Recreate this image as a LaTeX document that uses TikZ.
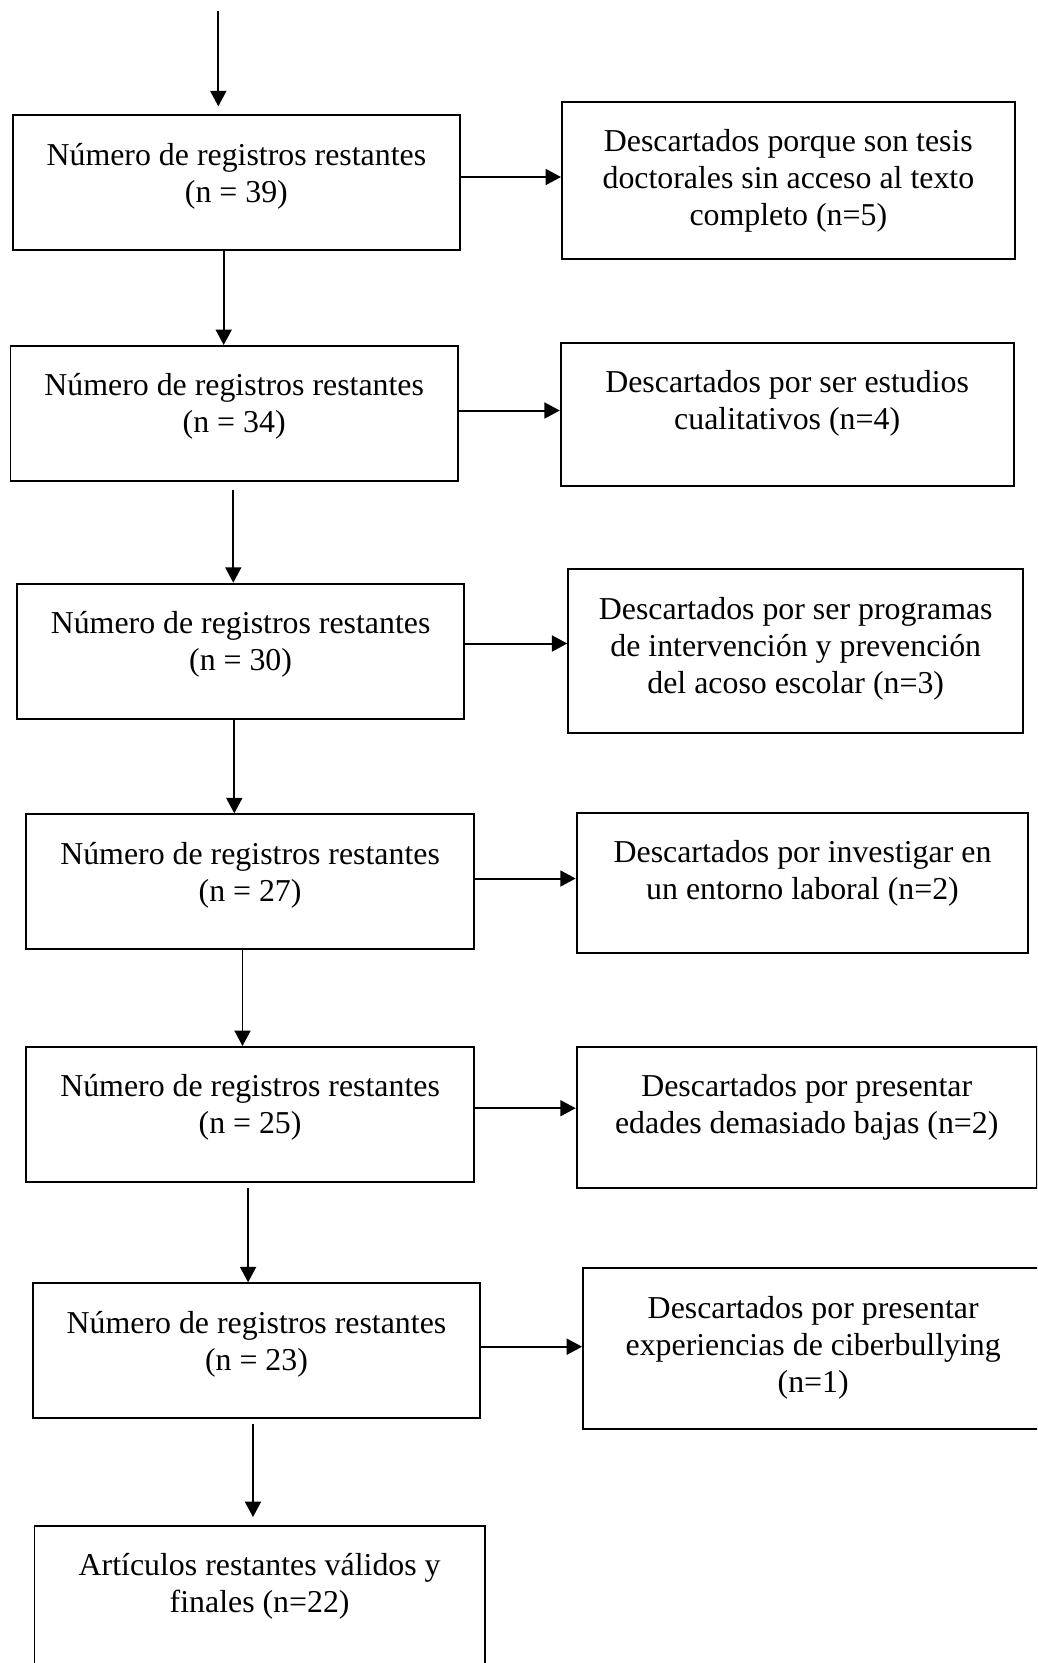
\documentclass[tikz,border=0pt]{standalone}
\usepackage{fontspec}
\setmainfont{Liberation Serif}
\usetikzlibrary{arrows.meta}

\begin{document}
\begin{tikzpicture}[x=0.3766pt, y=-0.3766pt, line width=0.75pt,
  >={Triangle[length=5.8pt,width=6pt]},
  restbox/.style={draw, anchor=north west, inner sep=0pt, align=flush center,
    text width=168.5pt, text height=18.8pt, text depth=32pt,
    font=\fontsize{12}{13.9}\selectfont},
  descbox/.style={restbox, text width=170.5pt}]
\clip (0,0) rectangle (1037,1663);

% remaining records
\node[restbox] (b1) at (11.7,114.3) {Número de registros restantes\\(n = 39)};
\node[restbox] (b2) at (9.5,345) {Número de registros restantes\\(n = 34)};
\node[restbox] (b3) at (15.9,582.7) {Número de registros restantes\\(n = 30)};
\node[restbox] (b4) at (25.4,813.3) {Número de registros restantes\\(n = 27)};
\node[restbox] (b5) at (25.4,1046) {Número de registros restantes\\(n = 25)};
\node[restbox] (b6) at (31.8,1282.3) {Número de registros restantes\\(n = 23)};
\node[restbox, text width=169.6pt, text depth=60pt] (b7) at (33.5,1525)
  {Artículos restantes válidos y\\finales (n=22)};

% discarded
\node[descbox, text depth=40.5pt] (d1) at (561,101)
  {Descartados porque son tesis\\doctorales sin acceso al texto\\completo (n=5)};
\node[descbox, text depth=35.1pt] (d2) at (559.8,341.7)
  {Descartados por ser estudios\\cualitativos (n=4)};
\node[descbox, text width=171.3pt, text depth=42.7pt] (d3) at (567.3,568.3)
  {Descartados por ser programas\\de intervención y prevención\\del acoso escolar (n=3)};
\node[descbox, text width=170.1pt, text depth=34.1pt] (d4) at (575.7,811.7)
  {Descartados por investigar en\\un entorno laboral (n=2)};
\node[descbox, text width=173.3pt, text depth=34.3pt] (d5) at (575.7,1045.7)
  {Descartados por presentar\\edades demasiado bajas (n=2)};
\node[descbox, text width=173.3pt, text depth=41.6pt] (d6) at (582.1,1267.3)
  {Descartados por presentar\\experiencias de ciberbullying\\(n=1)};

% arrow columns and rows
\coordinate (top) at (218.3,10.6);
\coordinate (c1) at (223.7,0);
\coordinate (c2) at (233.3,0);
\coordinate (c3) at (234.3,0);
\coordinate (c4) at (242.5,0);
\coordinate (c5) at (248.1,0);
\coordinate (c6) at (253,0);
\coordinate (r1) at (0,177);
\coordinate (r2) at (0,410.5);
\coordinate (r3) at (0,643.5);
\coordinate (r4) at (0,878.5);
\coordinate (r5) at (0,1108.2);
\coordinate (r6) at (0,1346.7);

% down the chain
\draw[->, shorten >=3pt] (top) -- (b1.north -| top);
\draw[->] (b1.south -| c1) -- (b2.north -| c1);
\draw[->, shorten <=3pt] (b2.south -| c2) -- (b3.north -| c2);
\draw[->] (b3.south -| c3) -- (b4.north -| c3);
\draw[->] (b4.south -| c4) -- (b5.north -| c4);
\draw[->, shorten <=1.9pt] (b5.south -| c5) -- (b6.north -| c5);
\draw[->, shorten <=1.7pt, shorten >=3pt] (b6.south -| c6) -- (b7.north -| c6);

% to the discarded
\draw[->] (b1.east |- r1) -- (d1.west |- r1);
\draw[->] (b2.east |- r2) -- (d2.west |- r2);
\draw[->] (b3.east |- r3) -- (d3.west |- r3);
\draw[->] (b4.east |- r4) -- (d4.west |- r4);
\draw[->] (b5.east |- r5) -- (d5.west |- r5);
\draw[->] (b6.east |- r6) -- (d6.west |- r6);
\end{tikzpicture}
\end{document}
